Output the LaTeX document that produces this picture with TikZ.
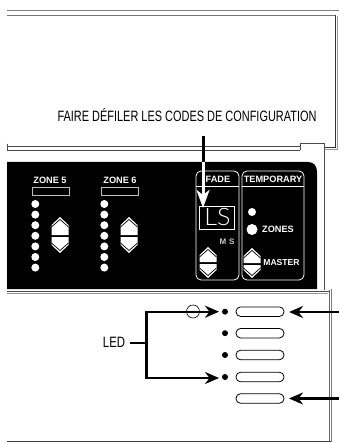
\documentclass[tikz,border=0pt]{standalone}
\usepackage{fontspec}
\setmainfont{Liberation Sans}
\usetikzlibrary{arrows.meta}
\tikzset{
  x=1pt,y=-1pt,
  arrowline/.style={line width=2.4pt,black,-{Stealth[length=14pt,width=12pt,inset=4.5pt]}},
  whitecap/.style={text=white,font=\fontsize{9.2}{9.2}\selectfont\bfseries,inner sep=0pt},
  narrowlabel/.style={font=\fontsize{15}{15}\selectfont,xscale=0.73,inner sep=0pt},
  led/.style={circle,fill=white,minimum size=8pt,inner sep=0pt},
  pill/.style={draw=black,line width=0.8pt,rounded corners=4.5pt,minimum width=48pt,minimum height=9.5pt,inner sep=0pt},
  dotk/.style={circle,fill=black,minimum size=6pt,inner sep=0pt},
  frame/.style={line width=0.9pt,black!70},
  zonebox/.style={draw=white!75!black,line width=0.8pt,fill=black,minimum width=37pt,minimum height=8pt,inner sep=0pt}
}
\newcommand{\updown}[4]{% x, top, mid, bottom
  \fill[white] (#1,#2) -- (#1+8.5,#2+8) -- (#1+8.5,#3-1) -- (#1-8.5,#3-1) -- (#1-8.5,#2+8) -- cycle;
  \draw[black,line width=0.7pt] (#1-8.5,#2+10) -- (#1,#2+2.5) -- (#1+8.5,#2+10);
  \fill[white] (#1,#4) -- (#1+8.5,#4-8) -- (#1+8.5,#3+1) -- (#1-8.5,#3+1) -- (#1-8.5,#4-8) -- cycle;
  \draw[black,line width=0.7pt] (#1-8.5,#4-10) -- (#1,#4-2.5) -- (#1+8.5,#4-10);
}
\begin{document}
\begin{tikzpicture}
\useasboundingbox (0,0) rectangle (339,443);
\fill[white] (0,0) rectangle (339,443);
% top lines
\draw[line width=1pt,black!50] (7,10.5) -- (339,10.5);
\draw[line width=1.8pt,black!55] (7,15.5) -- (336,15.5);
\draw[line width=1pt,black!80] (335.5,15) -- (335.5,147.5) -- (324,147.5);
\draw[line width=0.7pt,black!40] (337,16) -- (337,149) -- (325,149);
% upper lid double line
\draw[frame] (7.5,144) -- (7.5,151);
\draw[frame] (7,146) -- (300,146);
\draw[frame] (7,150) -- (300,150);
\draw[frame] (300,150) -- (300,143.5) -- (324,143.5) -- (324,290);
% black panel
\fill[black] (7,162) -- (308,162) .. controls (314,162) and (317,166) .. (317,172) -- (317,289) -- (7,289) -- cycle;
% zones
\node[whitecap] (z5) at (50,180.5) {ZONE 5};
\node[whitecap] (z6) at (120,180.5) {ZONE 6};
\node[zonebox] (b5) at (50.5,191) {};
\node[zonebox] (b6) at (119.5,191) {};
\foreach \i in {0,...,6}{
  \node[led] (a\i) at (35.3,204+10.6*\i) {};
  \node[led] (c\i) at (104.3,204+10.6*\i) {};
}
\updown{60}{217}{236}{253}
\updown{129}{217}{236}{253}
% fade / temporary frames
\draw[white,line width=0.8pt,rounded corners=5pt] (196,171) rectangle (239,280);
\draw[white,line width=0.8pt,rounded corners=5pt] (242,171) rectangle (304,280);
\draw[white,line width=0.8pt] (196,186) -- (239,186);
\draw[white,line width=0.8pt] (242,186) -- (304,186);
\node[whitecap] (fade) at (218,179) {FADE};
\node[whitecap] (temp) at (273,179) {TEMPORARY};
% display
\node[draw=white,line width=0.8pt,minimum width=35pt,minimum height=23pt,inner sep=0pt] (disp) at (216.5,217.5) {};
\node[text=white,inner sep=0pt,xscale=1.05,font=\fontsize{24}{24}\selectfont\fontspec{Lato Light}] (ls) at (217.5,217.5) {LS};
\node[text=white!80!black,inner sep=0pt,font=\fontsize{8}{8}\selectfont\bfseries] (ms) at (227,242) {M\,\,S};
\updown{208}{247}{263}{278}
% temporary
\node[led,minimum size=8pt] (l1) at (252,212) {};
\node[led,minimum size=11pt] (l2) at (252,229.5) {};
\node[whitecap] (zn) at (278,229.5) {ZONES};
\node[whitecap,font=\fontsize{8.6}{8.6}\selectfont\bfseries] (ma) at (281.5,262.5) {MASTER};
\updown{252}{248}{264}{278}
% label + arrow
\node[narrowlabel] (title) at (187,115) {FAIRE DÉFILER LES CODES DE CONFIGURATION};
\coordinate (s1) at (203,136);
\coordinate (s2) at (203,162);
\coordinate (s3) at (203,208);
\draw[black,line width=3pt] (s1) -- (s2);
\draw[white,line width=3pt,-{Stealth[length=18pt,width=13pt,inset=5pt]}] (s2) -- (s3);
% lower panel
\fill[white] (0,290) rectangle (330,443);
\draw[line width=0.9pt,black!70] (7,291) -- (330,291);
\draw[line width=0.6pt,black!40] (7,293) -- (328,293);
\draw[line width=0.9pt,black!60] (329,290) -- (329,441);
\draw[line width=0.9pt,black!50] (331.5,289) -- (331.5,442);
\draw[line width=1pt,black!75] (7,441.5) -- (331,441.5);
\foreach \y/\n in {311.7/1,333.2/2,355/3,377/4,398.5/5}{
  \node[pill] (p\n) at (260,\y) {};
}
\foreach \y/\n in {311.7/1,333.2/2,355/3,377/4}{
  \node[dotk] (d\n) at (225,\y) {};
}
\node[font=\fontsize{15}{15}\selectfont,xscale=0.76,inner sep=0pt] (lbl) at (114,342) {LED};
\coordinate (j) at (146.5,343);
\coordinate (jt) at (146.5,311.7);
\coordinate (jb) at (146.5,378);
\draw[line width=2.4pt] (130,343) -- (j);
\draw[line width=2.4pt,line cap=rect] (jt) -- (jb);
\draw[arrowline] (jt) -- (219,311.7);
\draw[arrowline] (jb) -- (219,378);
\node[draw=black,circle,line width=0.6pt,minimum size=13pt,inner sep=0pt] (o) at (193,311.5) {};
\coordinate (r1) at (339,312);
\coordinate (r2) at (339,398.5);
\draw[arrowline] (r1) -- (289,312);
\draw[arrowline] (r2) -- (289,398.5);
\end{tikzpicture}
\end{document}
